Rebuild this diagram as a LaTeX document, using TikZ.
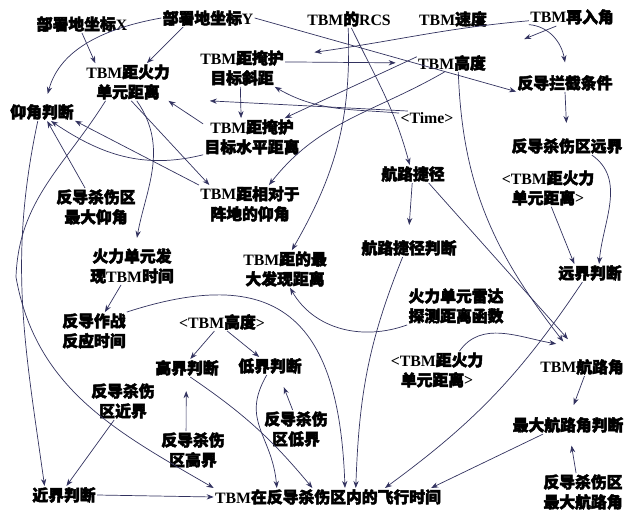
\documentclass[tikz,border=0pt]{standalone}
\usepackage{fontspec}
\setmainfont{Noto Sans CJK SC}[FakeBold=3]
\newfontfamily\en{Liberation Serif}
\newcommand{\tbm}{{\en TBM}}
\usetikzlibrary{arrows.meta}
\definecolor{linec}{RGB}{50,50,95}

\begin{document}
\begin{tikzpicture}[x=0.03cm,y=0.03cm,
  every node/.style={font=\bfseries\fontsize{13.5}{17}\selectfont,align=center,inner sep=1pt},
  arr/.style={->,>={Stealth[length=6pt,width=4.5pt]},draw=linec,line width=0.6pt}]
  \useasboundingbox (0,0) rectangle (627,512);
  \node (a) at (82,488) {部署地坐标{\en X}};
  \node (b) at (208,494) {部署地坐标{\en Y}};
  \node (c) at (349,493) {\tbm 的{\en RCS}};
  \node (d) at (453,493) {\tbm 速度};
  \node (e) at (572,495) {\tbm 再入角};
  \node (f) at (128,430) {\tbm 距火力\\单元距离};
  \node (g) at (242,444) {\tbm 距掩护\\目标斜距};
  \node (h) at (452,449) {\tbm 高度};
  \node (i) at (565,429) {反导拦截条件};
  \node (j) at (42,400) {仰角判断};
  \node (k) at (427,394) {{\en <Time>}};
  \node (l) at (252,375) {\tbm 距掩护\\目标水平距离};
  \node (m) at (567,366) {反导杀伤区远界};
  \node (n) at (96,305) {反导杀伤区\\最大仰角};
  \node (o) at (250,308) {\tbm 距相对于\\阵地的仰角};
  \node (p) at (413,338) {航路捷径};
  \node (q) at (548,324) {{\en <}\tbm 距火力\\单元距离{\en >}};
  \node (r) at (132,246) {火力单元发\\现\tbm 时间};
  \node (s) at (285,243) {\tbm 距的最\\大发现距离};
  \node (t) at (409,264) {航路捷径判断};
  \node (u) at (590,239) {远界判断};
  \node (v) at (456,206) {火力单元雷达\\探测距离函数};
  \node (w) at (94,181) {反导作战\\反应时间};
  \node (x) at (222,190) {{\en <}\tbm 高度{\en >}};
  \node (y) at (187,144) {高界判断};
  \node (z) at (270,146) {低界判断};
  \node (aa) at (437,142) {{\en <}\tbm 距火力\\单元距离{\en >}};
  \node (bb) at (582,145) {\tbm 航路角};
  \node (cc) at (123,111) {反导杀伤\\区近界};
  \node (dd) at (296,83) {反导杀伤\\区低界};
  \node (ee) at (193,62) {反导杀伤\\区高界};
  \node (ff) at (568,87) {最大航路角判断};
  \node (gg) at (64,17) {近界判断};
  \node (hh) at (328,15) {\tbm 在反导杀伤区内的飞行时间};
  \node (ii) at (583,20) {反导杀伤区\\最大航路角};
  \draw[arr,shorten >=8pt] (b.west) to[out=190,in=75] (j.70);
  \draw[arr] (a.south) -- (f.150);
  \draw[arr] (b.-160) -- (f.45);
  \draw[arr] (b.east) -- (i.190);
  \draw[arr] (c.-75) to[out=-64,in=105] (p.110);
  \draw[arr] (c.-95) to[out=-88,in=60] (s.70);
  \draw[arr] (e.185) to[out=185,in=8] ([xshift=25pt]g.20);
  \draw[arr] (e.190) to[out=-5,in=100] ([yshift=10pt]i.north);
  \draw[arr,shorten >=34pt] (e.-150) -- (h.north east);
  \draw[arr,shorten >=18pt] (g.8) -- (h.west);
  \draw[arr] (k.160) -- ([xshift=33pt]f.south east);
  \draw[arr] (k.170) to[out=175,in=-30] (g.-30);
  \draw[arr] (h.170) -- (l.30);
  \draw[arr] (h.-130) to[out=210,in=52] (o.45);
  \draw[arr] (h.-55) to[out=-88,in=128] ([xshift=-16pt,yshift=14pt]bb.north);
  \draw[arr] (p.-30) -- ([xshift=-12pt,yshift=16pt]bb.north);
  \draw[arr] (aa.40) to[out=55,in=170] ([xshift=-22pt,yshift=12pt]bb.north);
  \draw[arr] (g.-95) -- (l.120);
  \draw[arr] (l.165) -- (f.-25);
  \draw[arr] (l.-160) to[out=194,in=-34] (j.-45);
  \draw[arr] (f.-80) -- (o.155);
  \draw[arr] (o.north west) -- (j.-15);
  \draw[arr] (n.120) -- (j.-60);
  \draw[arr,shorten >=8pt] (f.-65) to[out=-55,in=80] (r.80);
  \draw[arr] (f.-140) to[out=-122,in=88] (16,235) to[out=-80,in=150] (hh.north west);
  \draw[arr] (j.-115) to[out=-102,in=98] (gg.155);
  \draw[arr] (r.-120) -- (w.60);
  \draw[arr] (w.30) to[out=18,in=92,looseness=1.5] (hh.28);
  \draw[arr] (t.-125) to[out=-112,in=88] (hh.18);
  \draw[arr] (x.-130) -- (y.70);
  \draw[arr] (x.-60) -- (z.140);
  \draw[arr,shorten >=12pt] (ee.110) -- (y.-95);
  \draw[arr,shorten >=11pt] (dd.100) -- (z.-45);
  \draw[arr] (y.-70) to[bend left=8] (hh.150);
  \draw[arr] (z.-110) to[out=-120,in=95,looseness=1.2] (hh.170);
  \draw[arr] (cc.-115) -- (gg.75);
  \draw[arr] (gg.east) -- (hh.west);
  \draw[arr] (u.-130) to[bend left=10] (hh.9);
  \draw[arr] (ff.-160) -- (hh.5);
  \draw[arr,shorten >=10pt] (ii.110) -- (ff.-80);
  \draw[arr,shorten >=10pt] (bb.-75) -- (ff.80);
  \draw[arr] (q.-80) -- (u.150);
  \draw[arr] (m.-20) to[out=-35,in=85] (u.45);
  \draw[arr,shorten >=12pt] (i.-90) -- (m.90);
  \draw[arr,shorten >=12pt] (p.-95) -- (t.95);
  \draw[arr] (v.south west) to[out=200,in=-60] (s.-75);
\end{tikzpicture}
\end{document}
